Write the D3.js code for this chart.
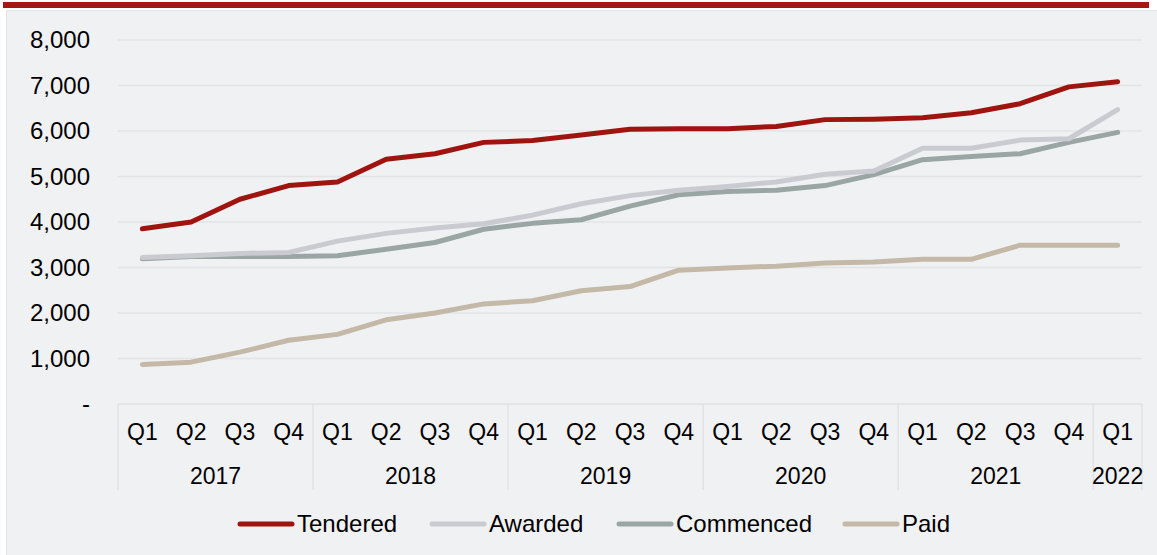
<!DOCTYPE html>
<html>
<head>
<meta charset="utf-8">
<script src="https://cdn.jsdelivr.net/npm/d3@7"></script>
<style>
  body { margin: 0; background: #fff; }
  svg { display: block; font-family: "Liberation Sans", Arial, sans-serif; }
</style>
</head>
<body>
<svg id="chart"></svg>
<script>
// quarters and years on the category axis
const years = ["2017", "2018", "2019", "2020", "2021", "2022"];
const quarters = ["Q1", "Q2", "Q3", "Q4"];
const periods = [];
years.forEach(y => quarters.forEach(q => {
    if (y === "2022" && q !== "Q1") return;
    periods.push({ year: y, q: q, key: y + "-" + q });
}));

// series values
const tendered  = [3850, 4000, 4500, 4800, 4880, 5380, 5500, 5750, 5790, 5910, 6040, 6050, 6050, 6100, 6250, 6260, 6290, 6400, 6600, 6970, 7080];
const awarded   = [3220, 3260, 3310, 3330, 3580, 3750, 3870, 3960, 4150, 4400, 4580, 4700, 4780, 4880, 5050, 5120, 5620, 5620, 5800, 5830, 6470];
const commenced = [3190, 3240, 3240, 3240, 3260, 3400, 3550, 3840, 3970, 4050, 4350, 4600, 4670, 4700, 4800, 5040, 5370, 5440, 5500, 5750, 5970];
const paid      = [870, 920, 1140, 1400, 1530, 1850, 2000, 2200, 2270, 2490, 2580, 2940, 2990, 3030, 3100, 3120, 3180, 3180, 3490, 3490, 3490];

const seriesNames = ["Tendered", "Awarded", "Commenced", "Paid"];
const seriesColors = ["#a01410", "#c9cbd1", "#9aa6a4", "#c4b8a7"];
const yTicks = [0, 1000, 2000, 3000, 4000, 5000, 6000, 7000, 8000];

const series = [tendered, awarded, commenced, paid].map((vals, i) => ({
    name: seriesNames[i], color: seriesColors[i], values: vals
}));

const width = 1157, height = 555;
const svg = d3.select("#chart").attr("width", width).attr("height", height);

// panel + top bar
svg.append("rect").attr("x", 6.5).attr("y", 10.5).attr("width", width).attr("height", height)
    .attr("fill", "#f0f1f3").attr("stroke", "#e3e4e7").attr("stroke-width", 1);
svg.append("rect").attr("x", 3).attr("y", 2).attr("width", 1146).attr("height", 6)
    .attr("fill", "#a51812");

const x = d3.scaleBand().domain(periods.map(p => p.key)).range([118, 1142]);
const y = d3.scaleLinear().domain([0, 8000]).range([404, 40]);

// gridlines
svg.append("g").selectAll("line").data(yTicks.filter(d => d > 0)).join("line")
    .attr("x1", 118).attr("x2", 1142)
    .attr("y1", d => y(d)).attr("y2", d => y(d))
    .attr("stroke", "#e2e3e6").attr("stroke-width", 1.3);

// y labels
svg.append("g").selectAll("text").data(yTicks).join("text")
    .attr("x", 90).attr("y", d => y(d)).attr("dy", "0.35em")
    .attr("text-anchor", "end").attr("font-size", 24).attr("fill", "#000")
    .text(d => d === 0 ? "-" : d3.format(",")(d));

// category axis: baseline + year separators
const axisCol = "#dfe0e3";
svg.append("line").attr("x1", 118).attr("x2", 1142).attr("y1", 404).attr("y2", 404)
    .attr("stroke", axisCol).attr("stroke-width", 1.3);
const yearStarts = years.map(yr => periods.findIndex(p => p.year === yr));
const seps = yearStarts.map(i => x(periods[i].key)).concat([x.range()[1]]);
svg.append("g").selectAll("line").data(seps).join("line")
    .attr("x1", d => d).attr("x2", d => d).attr("y1", 404).attr("y2", 490)
    .attr("stroke", axisCol).attr("stroke-width", 1.3);

svg.append("g").selectAll("text").data(periods).join("text")
    .attr("x", d => x(d.key) + x.bandwidth() / 2).attr("y", 432).attr("dy", "0.35em")
    .attr("text-anchor", "middle").attr("font-size", 23).attr("fill", "#000")
    .text(d => d.q);

svg.append("g").selectAll("text").data(years).join("text")
    .attr("x", (yr, i) => (seps[i] + seps[i + 1]) / 2).attr("y", 476).attr("dy", "0.35em")
    .attr("text-anchor", "middle").attr("font-size", 23).attr("fill", "#000")
    .text(d => d);

// lines
const line = d3.line()
    .x((d, i) => x(periods[i].key) + x.bandwidth() / 2)
    .y(d => y(d));

svg.append("g").selectAll("path").data(series.slice().reverse()).join("path")
    .attr("d", d => line(d.values))
    .attr("fill", "none").attr("stroke", d => d.color)
    .attr("stroke-width", 5).attr("stroke-linecap", "round").attr("stroke-linejoin", "round");

// legend
const legendX = [238, 430, 617, 843];
const lg = svg.append("g").selectAll("g").data(series).join("g")
    .attr("transform", (d, i) => `translate(${legendX[i]},524)`);
lg.append("line").attr("x1", 2).attr("x2", 54).attr("y1", 0).attr("y2", 0)
    .attr("stroke", d => d.color).attr("stroke-width", 5).attr("stroke-linecap", "round");
lg.append("text").attr("x", 59).attr("dy", "0.35em").attr("font-size", 24).attr("fill", "#000")
    .text(d => d.name);
</script>
</body>
</html>
